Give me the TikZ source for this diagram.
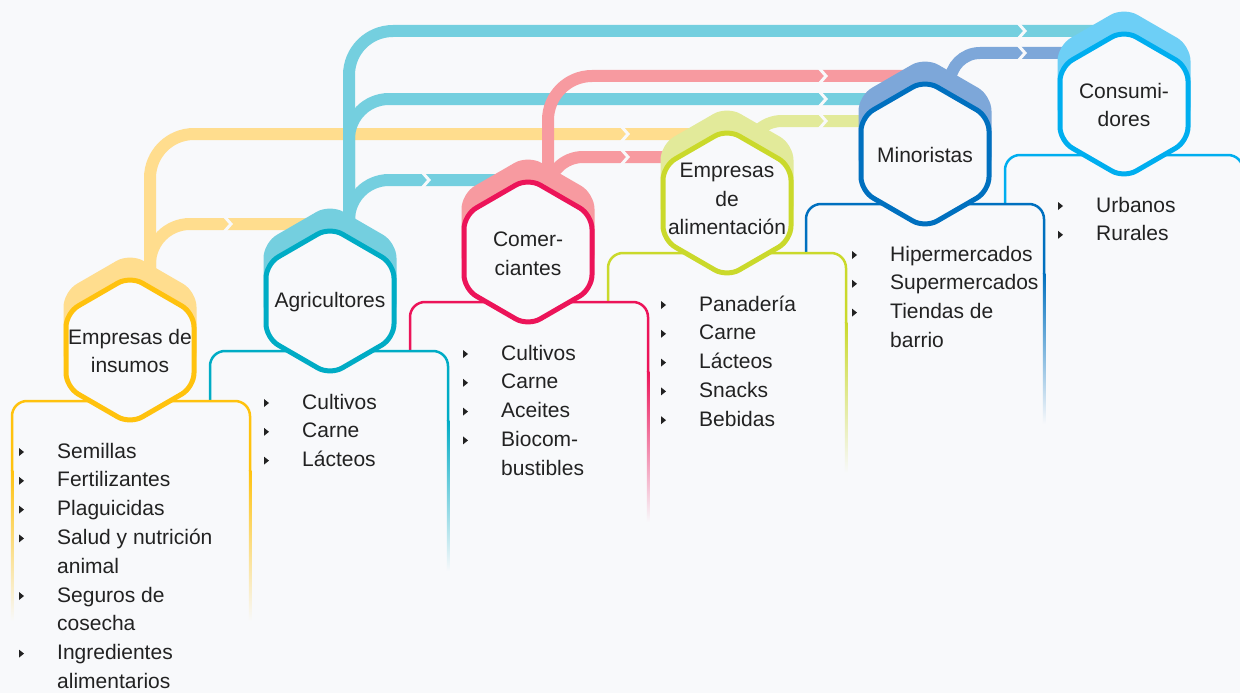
\documentclass[tikz,border=0pt]{standalone}
\usepackage{fontspec}
\setmainfont{Liberation Sans}
\usetikzlibrary{calc}
\definecolor{bg}{HTML}{F8F9FB}
\definecolor{txt}{HTML}{222222}
\definecolor{yM}{HTML}{FFC20E}\definecolor{yL}{HTML}{FFDD8E}
\definecolor{tM}{HTML}{00ACC5}\definecolor{tL}{HTML}{74CFDF}
\definecolor{pM}{HTML}{EC1459}\definecolor{pL}{HTML}{F79AA0}
\definecolor{lM}{HTML}{CAD92B}\definecolor{lL}{HTML}{E2EA9A}
\definecolor{bM}{HTML}{0070BF}\definecolor{bL}{HTML}{7DA7D9}
\definecolor{sM}{HTML}{00AEEF}\definecolor{sL}{HTML}{6DCFF6}
\tikzset{
  band/.style={line width=12pt},
  chev/.style={draw=bg, line width=3pt},
  hexfont/.style={font=\fontsize{21}{28.5}\selectfont, text=txt, align=center, inner sep=0pt},
  itemtext/.style={font=\fontsize{21}{25}\selectfont, text=txt, anchor=base west, inner sep=0pt},
  boxline/.style={line width=2.5pt, rounded corners=15pt},
}
\newcommand\infobox[3]{%
  \fill[bg, rounded corners=15pt] (#1,800) -- (#1,#2) -- ({#1+238},#2) -- ({#1+238},800) -- cycle;
  \draw[boxline, draw=#3] (#1,{#2+70}) -- (#1,#2) -- ({#1+238},#2) -- ({#1+238},{#2+70});
  \shade[top color=#3, bottom color=bg] ({#1-1.25},{#2+69}) rectangle ({#1+1.25},{#2+220});
  \shade[top color=#3, bottom color=bg] ({#1+236.75},{#2+69}) rectangle ({#1+239.25},{#2+220});
}
\newcommand\hexagon[4]{%
  \path[shift={($(#1)+(0,#2)$)}, fill=#3, draw=#4, line width=5pt, rounded corners=14pt]
    (-64,0) -- (-64,-37) -- (0,-74) -- (64,-37) -- (64,37) -- (0,74) -- (-64,37) -- cycle;
}
\newcommand\chevron[3]{%
  \draw[chev] ($(#1)+({#2-4},{#3-8})$) -- ($(#1)+({#2+3},#3)$) -- ($(#1)+({#2-4},{#3+8})$);
}
\newcommand\itemlist[4]{%
  \foreach \t/\b [count=\i from 0] in {#4} {
    \node[itemtext] (#1-\i) at (#2, {#3+\i*28.8}) {\t};
    \ifnum\b=1 \fill[txt] ({#2-38},{#3+\i*28.8-10}) -- ++(5,4) -- ++(-5,4) -- cycle; \fi
  }%
}
\begin{document}
\begin{tikzpicture}[x=1pt, y=-1pt]
\fill[bg] (0,0) rectangle (1240,693);
\useasboundingbox (0,0) rectangle (1240,693);
\coordinate (h1) at (130,350);
\coordinate (h2) at (330,301);
\coordinate (h3) at (528,252);
\coordinate (h4) at (727,203);
\coordinate (h5) at (925,154);
\coordinate (h6) at (1124,104);
% boxes
\infobox{1005}{155}{sM}
\infobox{806}{204}{bM}
\infobox{608}{253}{lM}
\infobox{410}{302}{pM}
\infobox{210}{351}{tM}
\infobox{12}{401}{yM}
% bands
\draw[band, yL, rounded corners=44pt] ($(h1)+(20,0)$) |- ($(h4)+(-20,-69)$);
\draw[band, yL, rounded corners=40pt] ($(h1)+(20,0)$) |- ($(h2)+(-10,-77)$);
\draw[band, tL, rounded corners=44pt] ($(h2)+(19,0)$) |- ($(h6)+(-10,-73)$);
\draw[band, tL, rounded corners=40pt] ($(h2)+(19,0)$) |- ($(h5)+(-20,-55)$);
\draw[band, tL, rounded corners=40pt] ($(h2)+(19,0)$) |- ($(h3)+(-8,-72)$);
\draw[band, pL, rounded corners=44pt] ($(h3)+(20,0)$) |- ($(h5)+(-5,-78)$);
\draw[band, pL, rounded corners=35pt] ($(h3)+(20,0)$) |- ($(h4)+(-20,-46)$);
\draw[band, lL, rounded corners=35pt] ($(h4)+(20,0)$) |- ($(h5)+(-20,-33)$);
\draw[band, bL, rounded corners=30pt] ($(h5)+(25,0)$) |- ($(h6)+(-10,-51)$);
% chevrons
\chevron{h2}{-102}{-77}
\chevron{h3}{-102}{-72}
\chevron{h4}{-102}{-69}
\chevron{h4}{-102}{-46}
\chevron{h5}{-102}{-78}
\chevron{h5}{-102}{-55}
\chevron{h5}{-102}{-33}
\chevron{h6}{-102}{-73}
\chevron{h6}{-102}{-51}
% shadows
\hexagon{h1}{-20}{yL}{yL}
\hexagon{h2}{-20}{tL}{tL}
\hexagon{h3}{-20}{pL}{pL}
\hexagon{h4}{-20}{lL}{lL}
\hexagon{h5}{-20}{bL}{bL}
\hexagon{h6}{-20}{sL}{sL}
% hexagons
\hexagon{h1}{0}{bg}{yM}
\hexagon{h2}{0}{bg}{tM}
\hexagon{h3}{0}{bg}{pM}
\hexagon{h4}{0}{bg}{lM}
\hexagon{h5}{0}{bg}{bM}
\hexagon{h6}{0}{bg}{sM}
% hexagon labels
\node[hexfont] (n1) at ($(h1)+(0,1)$) {Empresas de\\insumos};
\node[hexfont] (n2) at ($(h2)+(0,1)$) {Agricultores};
\node[hexfont] (n3) at ($(h3)+(0,2)$) {Comer-\\ciantes};
\node[hexfont] (n4) at ($(h4)+(0,-4)$) {Empresas\\de\\alimentación};
\node[hexfont] (n5) at ($(h5)+(0,1)$) {Minoristas};
\node[hexfont] (n6) at ($(h6)+(0,1)$) {Consumi-\\dores};
% lists
\itemlist{a}{57}{458}{Semillas/1, Fertilizantes/1, Plaguicidas/1, Salud y nutrición/1, animal/0, Seguros de/1, cosecha/0, Ingredientes/1, alimentarios/0}
\itemlist{b}{302}{409}{Cultivos/1, Carne/1, Lácteos/1}
\itemlist{c}{501}{360}{Cultivos/1, Carne/1, Aceites/1, Biocom-/1, bustibles/0}
\itemlist{d}{699}{311}{Panadería/1, Carne/1, Lácteos/1, Snacks/1, Bebidas/1}
\itemlist{e}{890}{261}{Hipermercados/1, Supermercados/1, Tiendas de/1, barrio/0}
\itemlist{f}{1096}{212}{Urbanos/1, Rurales/1}
\end{tikzpicture}
\end{document}
